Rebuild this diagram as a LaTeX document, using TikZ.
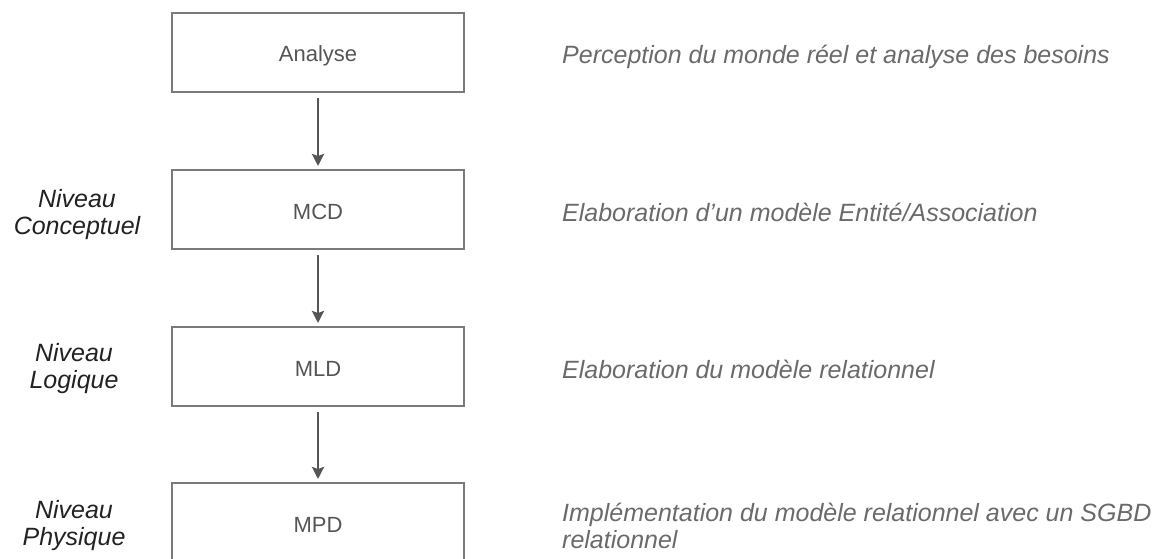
\documentclass[tikz,border=0pt]{standalone}
\usepackage{fontspec}
\setmainfont{Liberation Sans}
\usetikzlibrary{arrows.meta}

\definecolor{boxline}{HTML}{7A7A7A}
\definecolor{boxtext}{HTML}{555555}
\definecolor{notetext}{HTML}{6A6A6A}
\definecolor{leveltext}{HTML}{222222}
\definecolor{arrowcol}{HTML}{555555}

\begin{document}
\begin{tikzpicture}[x=1pt,y=-1pt,
  stage/.style={draw=boxline, line width=2pt, minimum width=292pt,
    minimum height=79pt, inner sep=0pt, text=boxtext,
    font=\fontsize{22}{26}\selectfont, text height=19pt, text depth=0pt},
  level/.style={anchor=base, align=center, text=leveltext, inner sep=0pt,
    font=\fontsize{25}{27}\selectfont\itshape},
  note/.style={anchor=base west, align=left, text=notetext, inner sep=0pt,
    font=\fontsize{25}{26.5}\selectfont\itshape},
  flow/.style={draw=arrowcol, line width=2.5pt,
    -{Stealth[width=12pt,length=12pt,inset=2pt]},
    shorten <=5pt, shorten >=3pt}
]
\useasboundingbox (0,0) rectangle (1161,559);
\clip (0,0) rectangle (1161,559);

% stages of the design process
\node[stage] (ana) at (318,52.5)  {Analyse};
\node[stage] (mcd) at (318,209.5) {MCD};
\node[stage] (mld) at (318,366.5) {MLD};
\node[stage] (mpd) at (318,522.5) {MPD};

% flow between stages
\draw[flow] (ana.south) -- (mcd.north);
\draw[flow] (mcd.south) -- (mld.north);
\draw[flow] (mld.south) -- (mpd.north);

% abstraction levels
\node[level] (lvc) at (77,234) {Niveau\\Conceptuel};
\node[level] (lvl) at (74,388) {Niveau\\Logique};
\node[level] (lvp) at (74,545) {Niveau\\Physique};

% descriptions
\node[note] (nana) at (562,64)  {Perception du monde réel et analyse des besoins};
\node[note] (nmcd) at (562,221) {Elaboration d’un modèle Entité/Association};
\node[note] (nmld) at (562,378) {Elaboration du modèle relationnel};
\node[note] (nmpd) at (562,548) {Implémentation du modèle relationnel avec un SGBD\\relationnel};
\end{tikzpicture}
\end{document}
